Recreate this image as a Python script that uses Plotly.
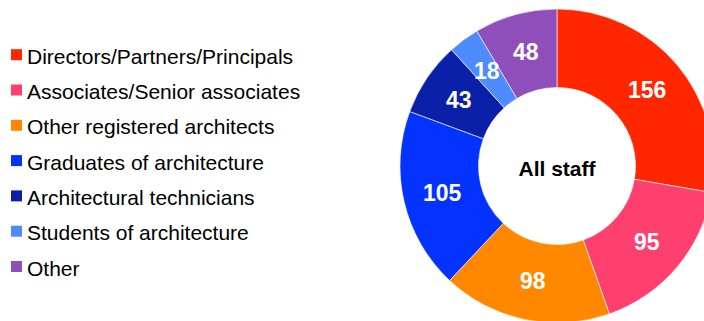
import math
import plotly.graph_objects as go

# Staff breakdown by role
roles = [
    "Directors/Partners/Principals",
    "Associates/Senior associates",
    "Other registered architects",
    "Graduates of architecture",
    "Architectural technicians",
    "Students of architecture",
    "Other",
]
counts = [156, 95, 98, 105, 43, 18, 48]
colors = ["#FF2600", "#FF3F6E", "#FF8800", "#0433FF", "#0A20A8", "#4D8BFF", "#8E4FBA"]

W, H = 716, 324
FONT = "Liberation Sans, Arial, sans-serif"

# Donut placement in pixels (left, right, top, bottom)
px_l, px_r, px_t, px_b = 400, 714, 9, 323
HOLE = 0.5

fig = go.Figure(
    go.Pie(
        labels=roles,
        values=counts,
        marker=dict(colors=colors, line=dict(color="white", width=0.6)),
        hole=HOLE,
        sort=False,
        direction="clockwise",
        rotation=0,
        textinfo="none",
        title=dict(text="All staff", position="middle center",
                   font=dict(family=FONT, size=21, color="black", weight="bold")),
        domain=dict(x=[px_l / W, px_r / W], y=[1 - px_b / H, 1 - px_t / H]),
        showlegend=False,
    )
)

annotations, shapes = [], []

# Value labels centred in each ring segment (mid-angle, mid-radius)
cx, cy = (px_l + px_r) / 2, (px_t + px_b) / 2
r_out = (px_r - px_l) / 2
r_mid = r_out * (1 + HOLE) / 2
total = sum(counts)
acc = 0
for v in counts:
    ang = 2 * math.pi * (acc + v / 2) / total
    acc += v
    x = cx + r_mid * math.sin(ang)
    y = cy - r_mid * math.cos(ang)
    annotations.append(dict(
        text=str(v), xref="paper", yref="paper", x=x / W, y=1 - y / H,
        xanchor="center", yanchor="middle", showarrow=False,
        font=dict(family=FONT, size=23, color="white", weight="bold"),
    ))

# Legend drawn as coloured squares with labels down the left side
row0, row_gap = 54.7, 35.3
for i, (name, col) in enumerate(zip(roles, colors)):
    ry = row0 + i * row_gap
    shapes.append(dict(
        type="rect", xref="paper", yref="paper",
        x0=11 / W, x1=22 / W, y0=1 - (ry - 5.5) / H, y1=1 - (ry + 5.5) / H,
        fillcolor=col, line=dict(width=0),
    ))
    annotations.append(dict(
        text=name, xref="paper", yref="paper",
        x=25 / W, y=1 - (ry + 1.5) / H, xanchor="left", yanchor="middle",
        showarrow=False, font=dict(family=FONT, size=21, color="black"),
    ))

fig.update_layout(
    width=W, height=H,
    margin=dict(l=0, r=0, t=0, b=0),
    paper_bgcolor="white",
    plot_bgcolor="white",
    shapes=shapes,
    annotations=annotations,
)

fig.write_html(
    "out.html",
    post_script="document.body.style.margin='0';"
                "document.body.style.overflow='hidden';"
                "document.documentElement.style.overflow='hidden';",
)
